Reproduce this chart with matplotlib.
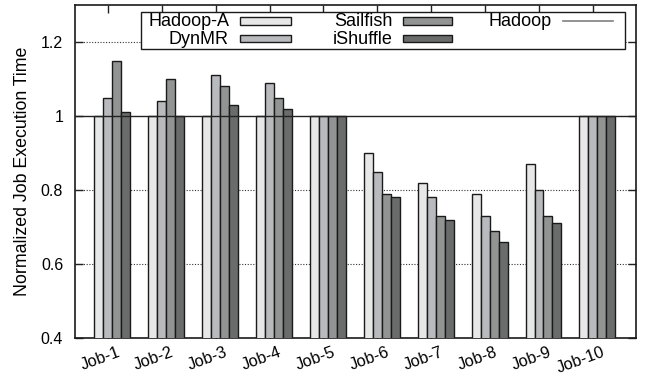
import numpy as np
import matplotlib
matplotlib.use("Agg")
import matplotlib.pyplot as plt
import matplotlib.transforms as mtransforms
from matplotlib.patches import Rectangle
from matplotlib.lines import Line2D

plt.rcParams['font.family'] = ['Liberation Sans', 'DejaVu Sans']

jobs = ["Job-1", "Job-2", "Job-3", "Job-4", "Job-5",
        "Job-6", "Job-7", "Job-8", "Job-9", "Job-10"]
series_names = ["Hadoop-A", "DynMR", "Sailfish", "iShuffle"]
hadoop_a = [1.00, 1.00, 1.00, 1.00, 1.00, 0.90, 0.82, 0.79, 0.87, 1.00]
dynmr    = [1.05, 1.04, 1.11, 1.09, 1.00, 0.85, 0.78, 0.73, 0.80, 1.00]
sailfish = [1.15, 1.10, 1.08, 1.05, 1.00, 0.79, 0.73, 0.69, 0.73, 1.00]
ishuffle = [1.01, 1.00, 1.03, 1.02, 1.00, 0.78, 0.72, 0.66, 0.71, 1.00]
hadoop_baseline = 1.0
yticks = [0.4, 0.6, 0.8, 1.0, 1.2]
ytick_labels = ["0.4", "0.6", "0.8", "1", "1.2"]

colors = ["#e6e7e6", "#b9babe", "#929393", "#6a6b6b"]
edge = "#1a1a1a"

W, H = 646, 378
fig = plt.figure(figsize=(W / 100, H / 100), dpi=100)
ax = fig.add_axes([75 / W, 1 - 338 / H, (636 - 75) / W, (338 - 5) / H])

x = np.arange(len(jobs))
w = 1.0 / 6.0
all_series = [hadoop_a, dynmr, sailfish, ishuffle]
for j, (vals, c) in enumerate(zip(all_series, colors)):
    ax.bar(x + (j - 1) * w, vals, width=w, bottom=0,
           color=c, edgecolor=edge, linewidth=1.0, zorder=3)

ax.set_xlim(-0.61, 9.80)
ax.set_ylim(0.4, 1.3)

# dotted grid and the Hadoop reference line
for yv in [0.6, 0.8, 1.2]:
    ax.axhline(yv, color="#333333", linewidth=0.8, linestyle=(0, (1, 1.5)), zorder=1)
ax.axhline(hadoop_baseline, color="#222222", linewidth=1.0, zorder=4)

ax.set_yticks(yticks)
ax.set_yticklabels(ytick_labels, fontsize=11.5)
ax.set_xticks(x)
ax.set_xticklabels(jobs, fontsize=11.8, rotation=20, ha="right", va="top",
                   rotation_mode="anchor")
ax.tick_params(axis="both", direction="in", top=True, right=True,
               length=6, width=1.0, color="#222222")
ax.tick_params(axis="x", pad=5)
ax.tick_params(axis="y", pad=8.5)
offset = mtransforms.ScaledTranslation(9 / 100, 0, fig.dpi_scale_trans)
for lab in ax.get_xticklabels():
    lab.set_transform(lab.get_transform() + offset)

for s in ax.spines.values():
    s.set_linewidth(1.2)
    s.set_color(edge)

ax.set_ylabel("Normalized Job Execution Time", fontsize=12.8, labelpad=7)

# legend box, keys placed in figure pixels (gnuplot-style: text then key)
def fx(px):
    return px / W

def fy(py):
    return 1 - py / H

frame = Rectangle((fx(141), fy(49)), fx(625) - fx(141), fy(12) - fy(49),
                  transform=fig.transFigure, facecolor="white",
                  edgecolor=edge, linewidth=1.0, zorder=10)
fig.add_artist(frame)

rows_y = [21, 38.5]
cols = [(229, 240, 291), (393, 403, 452)]
for j, name in enumerate(series_names):
    col, row = divmod(j, 2)
    tx, kx0, kx1 = cols[col]
    cy = rows_y[row]
    fig.text(fx(tx), fy(cy + 5.5), name, ha="right", va="baseline",
             fontsize=13, zorder=11)
    key = Rectangle((fx(kx0), fy(cy + 3.8)), fx(kx1) - fx(kx0),
                    fy(cy - 3.8) - fy(cy + 3.8), transform=fig.transFigure,
                    facecolor=colors[j], edgecolor=edge, linewidth=1.0,
                    zorder=11)
    fig.add_artist(key)

fig.text(fx(552), fy(rows_y[0] + 5.5), "Hadoop", ha="right", va="baseline",
         fontsize=13, zorder=11)
fig.add_artist(Line2D([fx(563), fx(613)], [fy(rows_y[0]), fy(rows_y[0])],
                      transform=fig.transFigure, color="#808080",
                      linewidth=1.2, zorder=11))

fig.savefig("out.png", dpi=100)
